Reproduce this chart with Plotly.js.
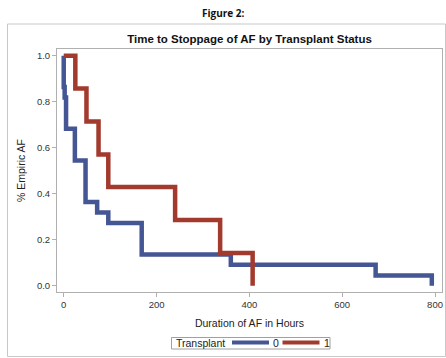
<!DOCTYPE html>
<html>
<head>
<meta charset="utf-8">
<script src="https://cdn.plot.ly/plotly-3.0.1.min.js"></script>
<style>html,body{margin:0;padding:0;background:#fff;}#chart{width:446px;height:358px;}</style>
</head>
<body>
<div id="chart"></div>
<script>
// Kaplan-Meier step data
const blueTimes = [0, 0, 2, 5, 24, 47, 72, 96, 168, 360, 672, 793];
const blueSurv  = [1.0, 0.864, 0.818, 0.682, 0.545, 0.364, 0.318, 0.273, 0.136, 0.091, 0.045, 0.0];
const redTimes  = [0, 25, 49, 75, 96, 240, 337, 407];
const redSurv   = [1.0, 0.857, 0.714, 0.571, 0.429, 0.286, 0.143, 0.0];
const groupNames = ['0', '1'];
const groupColors = ['#445694', '#A23A2E'];
const legendTitle = 'Transplant';
const xTicks = [0, 200, 400, 600, 800];
const yTicks = [0.0, 0.2, 0.4, 0.6, 0.8, 1.0];

const traces = [
  {x: blueTimes, y: blueSurv, name: groupNames[0], mode: 'lines',
   line: {shape: 'hv', color: groupColors[0], width: 4.5}},
  {x: redTimes, y: redSurv, name: groupNames[1], mode: 'lines',
   line: {shape: 'hv', color: groupColors[1], width: 4.5}}
];

// pixel -> paper helpers (plot area: left 57, width 385, bottom 292, height 243)
const px = v => (v - 57) / 385;
const py = v => (292 - v) / 243;

const axisCommon = {
  showgrid: false, zeroline: false, showline: true, mirror: true,
  linecolor: '#b0b0b0', linewidth: 1, ticks: 'outside', ticklen: 4,
  tickcolor: '#b0b0b0', tickfont: {family: 'Liberation Sans, Arial', size: 9.5, color: '#333'}
};

const legendFont = {family: 'Liberation Sans, Arial', size: 10.5, color: '#222'};

const layout = {
  width: 446, height: 358,
  margin: {l: 57, r: 4, t: 49, b: 66},
  paper_bgcolor: '#fff', plot_bgcolor: '#fff',
  font: {family: 'Liberation Sans, Arial', color: '#222'},
  showlegend: false,
  title: {text: '<b>Time to Stoppage of AF by Transplant Status</b>',
          font: {family: 'Liberation Sans, Arial', size: 11.5, color: '#111'},
          x: 0.5, xref: 'paper', xanchor: 'center', y: 1 - 39/358, yanchor: 'middle'},
  xaxis: Object.assign({}, axisCommon, {
    range: [-14.5, 815], tickvals: xTicks, ticktext: xTicks.map(String),
    title: {text: 'Duration of AF in Hours', font: {size: 10.5, color: '#222'}, standoff: 10}
  }),
  yaxis: Object.assign({}, axisCommon, {
    range: [-0.027, 1.029], tickvals: yTicks, ticktext: yTicks.map(v => v.toFixed(1)),
    title: {text: '% Empiric AF', font: {size: 10.5, color: '#222'}, standoff: 9}
  }),
  annotations: [
    {text: '<b>Figure 2:</b>', xref: 'paper', yref: 'paper',
     x: px(223), y: py(13), xanchor: 'center', yanchor: 'middle',
     showarrow: false, font: {family: 'Open Sans, Liberation Sans', size: 10, color: '#111'}},
    {text: legendTitle, xref: 'paper', yref: 'paper', x: px(173.5), y: py(343.3),
     xanchor: 'left', yanchor: 'middle', showarrow: false, font: legendFont},
    {text: groupNames[0], xref: 'paper', yref: 'paper', x: px(271), y: py(343.3),
     xanchor: 'left', yanchor: 'middle', showarrow: false, font: legendFont},
    {text: groupNames[1], xref: 'paper', yref: 'paper', x: px(321.5), y: py(343.3),
     xanchor: 'left', yanchor: 'middle', showarrow: false, font: legendFont}
  ],
  shapes: [
    {type: 'rect', xref: 'paper', yref: 'paper',
     x0: px(7.5), x1: px(445.5), y0: py(356.5), y1: py(24),
     line: {color: '#c8c8c8', width: 1}, fillcolor: 'rgba(0,0,0,0)', layer: 'below'},
    {type: 'rect', xref: 'paper', yref: 'paper',
     x0: px(171.5), x1: px(330), y0: py(349), y1: py(337.5),
     line: {color: '#a0a0a0', width: 1}, fillcolor: '#fff', layer: 'above'},
    {type: 'line', xref: 'paper', yref: 'paper',
     x0: px(232), x1: px(269), y0: py(342.5), y1: py(342.5),
     line: {color: groupColors[0], width: 4}},
    {type: 'line', xref: 'paper', yref: 'paper',
     x0: px(282.5), x1: px(319.5), y0: py(342.5), y1: py(342.5),
     line: {color: groupColors[1], width: 4}}
  ]
};

Plotly.newPlot('chart', traces, layout, {staticPlot: true, displayModeBar: false});
</script>
</body>
</html>
